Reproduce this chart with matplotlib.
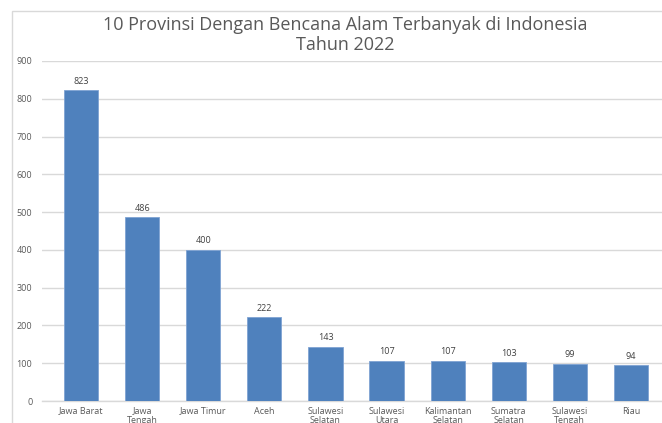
import matplotlib
matplotlib.use("Agg")
import matplotlib.pyplot as plt
from matplotlib.patches import Rectangle

categories = ["Jawa Barat", "Jawa\nTengah", "Jawa Timur", "Aceh", "Sulawesi\nSelatan",
              "Sulawesi\nUtara", "Kalimantan\nSelatan", "Sumatra\nSelatan", "Sulawesi\nTengah", "Riau"]
values = [823, 486, 400, 222, 143, 107, 107, 103, 99, 94]
yticks = [0, 100, 200, 300, 400, 500, 600, 700, 800, 900]
title = "10 Provinsi Dengan Bencana Alam Terbanyak di Indonesia\nTahun 2022"

plt.rcParams['font.family'] = ['Open Sans', 'DejaVu Sans']

W, H = 662, 423
fig = plt.figure(figsize=(W / 100, H / 100), dpi=100)
fig.patch.set_facecolor("white")

# chart area border (extends beyond cropped image edges)
fig.patches.append(Rectangle((12 / W, -0.1), 1.2, 1 - 11 / H + 0.1, transform=fig.transFigure,
                             fill=False, edgecolor="#D9D9D9", linewidth=1.0, zorder=0))

left, right, y0px, y900px = 42, 670, 401, 61
ax = fig.add_axes([left / W, (H - y0px) / H, (right - left) / W, (y0px - y900px) / H])
ax.set_facecolor("none")

x = list(range(len(categories)))
ax.bar(x, values, width=0.56, color="#4F81BD", edgecolor="#7FA3D3", linewidth=0.6, zorder=3)
for xi, v in zip(x, values):
    ax.text(xi, v + 12, str(v), ha="center", va="bottom", fontsize=6.5, color="#404040")

ax.set_xlim(-0.64, len(categories) - 1 + 0.64)
ax.set_ylim(0, 900)
ax.set_yticks(yticks)
ax.set_yticklabels([str(t) for t in yticks], fontsize=6.5, color="#595959")
ax.set_xticks(x)
ax.set_xticklabels(categories, fontsize=6.5, color="#595959", linespacing=1.0)
ax.tick_params(axis="both", length=0)
ax.tick_params(axis="y", pad=7)
ax.tick_params(axis="x", pad=4)
ax.yaxis.grid(True, color="#D9D9D9", linewidth=1.0, zorder=0)
ax.set_axisbelow(True)
for s in ["top", "right", "left"]:
    ax.spines[s].set_visible(False)
ax.spines["bottom"].set_color("#D9D9D9")
ax.spines["bottom"].set_linewidth(1.0)

fig.text(345.5 / W, 1 - 16 / H, title, ha="center", va="top", fontsize=13.0, color="#595959",
         linespacing=1.12)

fig.savefig("out.png", dpi=100)
